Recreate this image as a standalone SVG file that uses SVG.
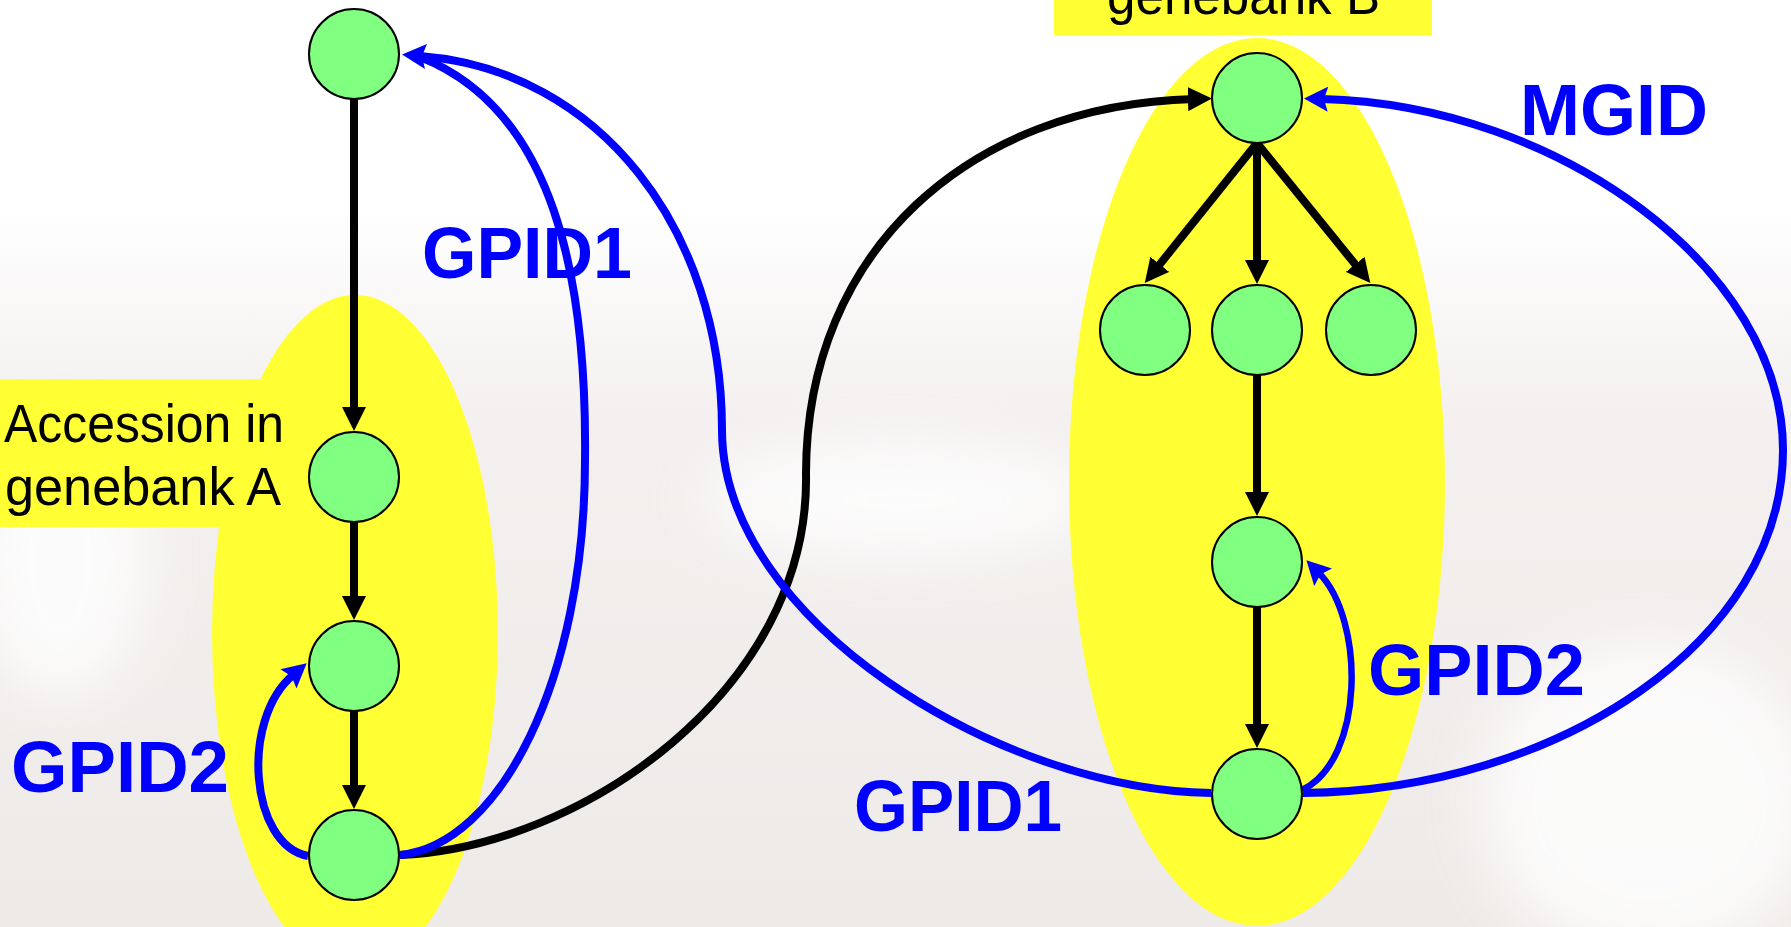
<svg xmlns="http://www.w3.org/2000/svg" width="1791" height="927" viewBox="0 0 1791 927">
<defs>
<linearGradient id="bg" x1="0" y1="0" x2="0" y2="1">
<stop offset="0" stop-color="#FFFFFF"/>
<stop offset="0.22" stop-color="#FFFFFF"/>
<stop offset="0.45" stop-color="#F3F0EF"/>
<stop offset="1" stop-color="#EEEAE8"/>
</linearGradient>
<filter id="blur" x="-50%" y="-50%" width="200%" height="200%"><feGaussianBlur stdDeviation="30"/></filter>
<marker id="ab" markerUnits="userSpaceOnUse" viewBox="0 0 24 24" markerWidth="24" markerHeight="24" refX="6" refY="12" orient="auto">
<path d="M0,0 L24,12 L0,24 z" fill="#000"/>
</marker>
<marker id="au" markerUnits="userSpaceOnUse" viewBox="0 0 24 25" markerWidth="24" markerHeight="25" refX="6" refY="12.5" orient="auto">
<path d="M0,0 L24,12.5 L0,25 L4,12.5 z" fill="#0000FF"/>
</marker>
<style>
.node{fill:#80FF80;stroke:#000;stroke-width:2}
.zone{fill:#FFFF33}
.blk{fill:none;stroke:#000;stroke-width:8}
.blu{fill:none;stroke:#0000FF;stroke-width:8}
.lbl{font-family:"Liberation Sans",Arial,sans-serif;font-size:54px;fill:#000}
.id{font-family:"Liberation Sans",Arial,sans-serif;font-weight:bold;font-size:72px;fill:#0000FF}
</style>
</defs>
<rect x="0" y="0" width="1791" height="927" fill="url(#bg)"/>
<g filter="url(#blur)" fill="#FFFFFF" opacity="0.8">
<ellipse cx="1650" cy="800" rx="170" ry="160"/>
<ellipse cx="60" cy="560" rx="90" ry="140"/>
<ellipse cx="900" cy="500" rx="200" ry="60"/>
</g>

<g id="zones">
<ellipse class="zone" cx="355" cy="633" rx="143" ry="338"/>
<ellipse class="zone" cx="1257" cy="482" rx="188" ry="444"/>
<rect class="zone" x="0" y="379" width="290" height="148"/>
<rect class="zone" x="1054" y="0" width="378" height="35"/>
</g>

<g id="connectors">
<line class="blk" x1="354" y1="99" x2="354" y2="413" marker-end="url(#ab)"/>
<line class="blk" x1="354" y1="522" x2="354" y2="602" marker-end="url(#ab)"/>
<line class="blk" x1="354" y1="711" x2="354" y2="791" marker-end="url(#ab)"/>
<line class="blk" x1="1257" y1="143" x2="1156" y2="269" marker-end="url(#ab)"/>
<line class="blk" x1="1257" y1="143" x2="1257" y2="266" marker-end="url(#ab)"/>
<line class="blk" x1="1257" y1="143" x2="1359" y2="269" marker-end="url(#ab)"/>
<line class="blk" x1="1257" y1="375" x2="1257" y2="498" marker-end="url(#ab)"/>
<line class="blk" x1="1257" y1="607" x2="1257" y2="730" marker-end="url(#ab)"/>
<path class="blk" d="M400 855 C580 848, 810 690, 806 474 C806 250, 970 105, 1194 99" marker-end="url(#ab)"/>
<path class="blu" d="M400 855 C500 845, 585 680, 585 460 C587 280, 555 110, 420 57"/>
<path class="blu" d="M1211 793 C1000 790, 722 620, 722 430 C722 230, 600 70, 420 56" marker-end="url(#au)"/>
<path class="blu" d="M1303 793 C1560 790, 1783 640, 1783 450 C1783 270, 1560 105, 1322 99" marker-end="url(#au)"/>
<path class="blu" d="M308 856 C250 845, 240 720, 293 675" marker-end="url(#au)"/>
<path class="blu" style="stroke-width:6.5" d="M1302 790 C1365 760, 1365 620, 1319 573" marker-end="url(#au)"/>
</g>

<g id="nodeA1"><circle class="node" cx="354" cy="54" r="45"/></g>
<g id="nodeA2"><circle class="node" cx="354" cy="477" r="45"/></g>
<g id="nodeA3"><circle class="node" cx="354" cy="666" r="45"/></g>
<g id="nodeA4"><circle class="node" cx="354" cy="855" r="45"/></g>
<g id="nodeB1"><circle class="node" cx="1257" cy="98" r="45"/></g>
<g id="nodeB2"><circle class="node" cx="1145" cy="330" r="45"/></g>
<g id="nodeB3"><circle class="node" cx="1257" cy="330" r="45"/></g>
<g id="nodeB4"><circle class="node" cx="1371" cy="330" r="45"/></g>
<g id="nodeB5"><circle class="node" cx="1257" cy="562" r="45"/></g>
<g id="nodeB6"><circle class="node" cx="1257" cy="794" r="45"/></g>

<g id="labels">
<text class="lbl" x="4" y="442" textLength="280" lengthAdjust="spacingAndGlyphs">Accession in</text>
<text class="lbl" x="5" y="505" textLength="276" lengthAdjust="spacingAndGlyphs">genebank A</text>
<text class="lbl" x="1107" y="14" textLength="273" lengthAdjust="spacingAndGlyphs">genebank B</text>
<text class="id" x="422" y="278" textLength="210" lengthAdjust="spacingAndGlyphs">GPID1</text>
<text class="id" x="11" y="792" textLength="218" lengthAdjust="spacingAndGlyphs">GPID2</text>
<text class="id" x="1520" y="135" textLength="188" lengthAdjust="spacingAndGlyphs">MGID</text>
<text class="id" x="1368" y="695" textLength="217" lengthAdjust="spacingAndGlyphs">GPID2</text>
<text class="id" x="854" y="831" textLength="208" lengthAdjust="spacingAndGlyphs">GPID1</text>
</g>
</svg>
